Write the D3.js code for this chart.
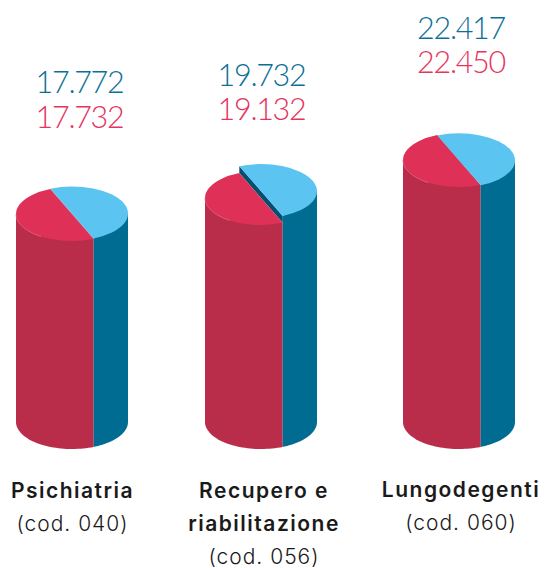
<!DOCTYPE html>
<html><head><meta charset="utf-8">
<style>html,body{margin:0;padding:0;background:#fff}svg{display:block}</style>
<script src="https://cdn.jsdelivr.net/npm/d3@7/dist/d3.min.js"></script>
</head><body><svg id="c" width="546" height="568"></svg>
<script>
const categories = [["Psichiatria"],["Recupero e","riabilitazione"],["Lungodegenti"]];
const codes = ["(cod. 040)","(cod. 056)","(cod. 060)"];
const seriesBlue = [17772,19732,22417];
const seriesRed = [17732,19132,22450];

const NUM_FONT = "Lato, sans-serif";
const LABEL_FONT = "Inter, Lato, sans-serif";
const C = {blueTop:"#5BC4F1", redTop:"#DF3058", blueSide:"#006C92", redSide:"#B92C4A", wall:"#00506F", rim:"#E8708C", blueText:"#0B7097", redText:"#E6345C", label:"#1A1A1A"};
const centers = [72,261,459];
const numCenters = [79.5,261.5,461];
const labelCenters = [72.5,264,461];
const numBase = [[93,128],[86,120],[39,73]];
const rx = 56, ry = 27, bottomY = 422;
const y = d3.scaleLinear().domain([17732,22450]).range([214,160]);
const splitAngle = Math.atan2(21,50);

const svg = d3.select("#c");
const pie = d3.pie().sort(null).startAngle(-splitAngle).endAngle(2*Math.PI-splitAngle);
const arc = d3.arc().innerRadius(0).outerRadius(rx);
const line = d3.line();
const ell = (a,cy) => [rx*Math.sin(a), cy - ry*Math.cos(a)];
const fmt = v => d3.format(",")(v).replace(",",".");

categories.forEach((cat,i)=>{
  const cx = centers[i];
  const g = svg.append("g").attr("transform",`translate(${cx},0)`);
  const yB = y(seriesBlue[i]), yR = y(seriesRed[i]);
  const sx = rx*Math.sin(splitAngle);
  const ky = ry*Math.cos(splitAngle);
  const a0 = Math.PI-splitAngle;

  const botArc = (from,to)=>d3.range(0,41).map(k=>ell(from+(to-from)*k/40,bottomY));
  g.append("path").attr("fill",C.redSide)
    .attr("d",line([[-rx,yR],...botArc(3*Math.PI/2,a0),[sx,yR+ky]])+"Z");
  g.append("path").attr("fill",C.blueSide)
    .attr("d",line([[sx,yB+ky],...botArc(a0,Math.PI/2),[rx,yB]])+"Z");

  if (yB < yR) g.append("path").attr("fill",C.wall)
    .attr("d",line([[-sx,yB-ky],[sx,yB+ky],[sx,yR+ky],[-sx,yR-ky]])+"Z");

  const slices = pie([seriesBlue[i],seriesRed[i]]);
  slices[0].startAngle=-splitAngle; slices[0].endAngle=a0;
  slices[1].startAngle=a0; slices[1].endAngle=2*Math.PI-splitAngle;
  g.append("path").attr("d",arc(slices[1])).attr("fill",C.redTop)
    .attr("transform",`translate(0,${yR}) scale(1,${ry/rx})`);
  g.append("path").attr("d",arc(slices[0])).attr("fill",C.blueTop)
    .attr("transform",`translate(0,${yB}) scale(1,${ry/rx})`);
  // thin light rim on the lower-left edge of the red top
  g.append("path").attr("fill","none").attr("stroke",C.rim).attr("stroke-width",0.7)
    .attr("d",line(d3.range(0,31).map(k=>ell(3*Math.PI/2+(a0-3*Math.PI/2)*k/60,yR))));

  const t = svg.append("g").attr("font-family",NUM_FONT).attr("font-weight",300).attr("font-size",30.5).attr("letter-spacing",-1.3).attr("text-anchor","middle");
  t.append("text").attr("x",numCenters[i]).attr("y",numBase[i][0]).attr("fill",C.blueText).text(fmt(seriesBlue[i]));
  t.append("text").attr("x",numCenters[i]).attr("y",numBase[i][1]).attr("fill",C.redText).text(fmt(seriesRed[i]));

  const l = svg.append("g").attr("font-family",LABEL_FONT).attr("font-size",21).attr("text-anchor","middle").attr("fill",C.label);
  const y0 = i==2 ? 497 : 498;
  cat.forEach((s,k)=>l.append("text").attr("x",labelCenters[i]).attr("y",y0+k*33).attr("font-weight",600).attr("letter-spacing",1.5).text(s));
  l.append("text").attr("x",labelCenters[i]).attr("y",y0+cat.length*33).attr("font-weight",300).attr("letter-spacing",1).text(codes[i]);
});
</script></body></html>
